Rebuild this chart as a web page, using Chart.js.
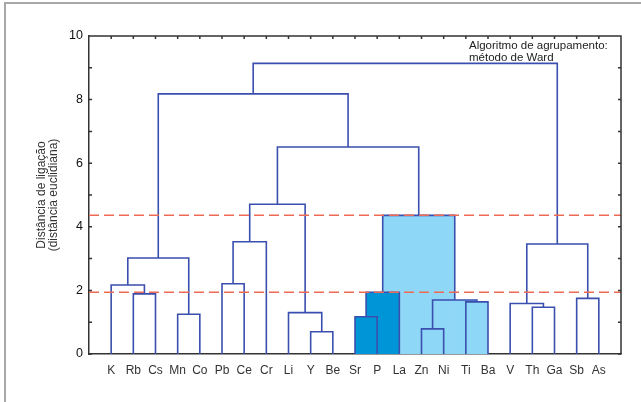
<!DOCTYPE html>
<html>
<head>
<meta charset="utf-8">
<script src="https://cdn.jsdelivr.net/npm/chart.js@4/dist/chart.umd.min.js"></script>
<style>
  html, body { margin: 0; padding: 0; background: #fff; }
  #wrap { width: 641px; height: 402px; position: relative; }
</style>
</head>
<body>
<div id="wrap"><canvas id="dendro" width="641" height="402"></canvas></div>
<script>
// Leaf order along the x axis (Ward clustering dendrogram)
const leaves = ['K', 'Rb', 'Cs', 'Mn', 'Co', 'Pb', 'Ce', 'Cr', 'Li', 'Y', 'Be', 'Sr', 'P',
  'La', 'Zn', 'Ni', 'Ti', 'Ba', 'V', 'Th', 'Ga', 'Sb', 'As'];

// Merges: [left, right, linkage distance]; a number refers to an earlier merge row
const merges = [
  ['Rb', 'Cs', 1.89],  // 0
  ['K', 0, 2.17],      // 1
  ['Mn', 'Co', 1.25],  // 2
  [1, 2, 3.02],        // 3
  ['Pb', 'Ce', 2.21],  // 4
  [4, 'Cr', 3.53],     // 5
  ['Y', 'Be', 0.70],   // 6
  ['Li', 6, 1.30],     // 7
  [5, 7, 4.71],        // 8
  ['Sr', 'P', 1.17],   // 9
  [9, 'La', 1.94],     // 10
  ['Zn', 'Ni', 0.79],  // 11
  ['Ti', 'Ba', 1.64],  // 12
  [11, 12, 1.70],      // 13
  [10, 13, 4.36],      // 14
  [8, 14, 6.51],       // 15
  [3, 15, 8.18],       // 16
  ['Th', 'Ga', 1.47],  // 17
  ['V', 17, 1.59],     // 18
  ['Sb', 'As', 1.75],  // 19
  [18, 19, 3.46],      // 20
  [16, 20, 9.14]       // 21
];

const cutLevels = [4.36, 1.94];
const yTicks = [0, 2, 4, 6, 8, 10];
const shadedOuter = 14;  // cluster La..Ba (light)
const shadedInner = 10;  // cluster Sr, P, La (dark)

const nodes = [];
function node(ref) {
  return typeof ref === 'string' ? { x: leaves.indexOf(ref) + 1, h: 0 } : nodes[ref];
}
merges.forEach(([l, r, h]) => {
  const a = node(l), b = node(r);
  nodes.push({ x: (a.x + b.x) / 2, h: h, a: a, b: b });
});
function subtree(i) {
  const out = [i];
  [merges[i][0], merges[i][1]].forEach(c => { if (typeof c === 'number') out.push(...subtree(c)); });
  return out;
}

const lineColor = '#3a4fae';
const datasets = [];

function boxFill(i, color, order) {
  const n = nodes[i];
  datasets.push({
    data: [{ x: n.a.x, y: 0 }, { x: n.a.x, y: n.h }, { x: n.b.x, y: n.h }, { x: n.b.x, y: 0 }],
    fill: 'origin', backgroundColor: color, borderColor: 'transparent', borderWidth: 0,
    pointRadius: 0, order: order
  });
}
subtree(shadedOuter).forEach(i => boxFill(i, '#8fd7f6', 3));
subtree(shadedInner).forEach(i => boxFill(i, '#0095d7', 2));

nodes.forEach(n => {
  datasets.push({
    data: [{ x: n.a.x, y: n.a.h }, { x: n.a.x, y: n.h }, { x: n.b.x, y: n.h }, { x: n.b.x, y: n.b.h }],
    borderColor: lineColor, borderWidth: 1.6, pointRadius: 0, fill: false, order: 1
  });
});

cutLevels.forEach(v => {
  datasets.push({
    data: [{ x: 0, y: v }, { x: leaves.length + 1, y: v }],
    borderColor: '#ef6a55', borderWidth: 1.5, borderDash: [10, 5], pointRadius: 0, fill: false, order: 0
  });
});

// box frame, inward ticks, annotation and outer border
const decor = {
  id: 'decor',
  afterDraw(chart) {
    const { ctx, chartArea: a, scales: { x, y } } = chart;
    ctx.save();
    ctx.strokeStyle = '#333';
    ctx.lineWidth = 1.5;
    ctx.beginPath();
    ctx.moveTo(a.left, a.top); ctx.lineTo(a.right, a.top); ctx.lineTo(a.right, a.bottom);
    for (let v = 0; v <= 10; v++) {
      const py = y.getPixelForValue(v);
      ctx.moveTo(a.left, py); ctx.lineTo(a.left + 3, py);
      ctx.moveTo(a.right, py); ctx.lineTo(a.right - 3, py);
    }
    leaves.forEach((_, i) => {
      const px = x.getPixelForValue(i + 1);
      ctx.moveTo(px, a.top); ctx.lineTo(px, a.top + 3);
    });
    ctx.stroke();

    ctx.fillStyle = '#222';
    ctx.font = '11.5px "Liberation Sans", Arial, sans-serif';
    ctx.textBaseline = 'alphabetic';
    ctx.fillText('Algoritmo de agrupamento:', a.right - 152, 48.5);
    ctx.fillText('método de Ward', a.right - 152, 60.5);

    ctx.strokeStyle = '#a8a8a8';
    ctx.lineWidth = 2;
    ctx.beginPath();
    ctx.moveTo(5, 402); ctx.lineTo(5, 3); ctx.lineTo(641, 3);
    ctx.stroke();
    ctx.restore();
  }
};

new Chart(document.getElementById('dendro'), {
  type: 'line',
  data: { datasets: datasets },
  options: {
    responsive: false,
    animation: false,
    layout: { padding: { left: 0, right: 20, top: 36, bottom: 0 } },
    plugins: { legend: { display: false }, tooltip: { enabled: false } },
    scales: {
      x: {
        type: 'linear', min: 0, max: leaves.length + 1,
        grid: { display: false, drawTicks: false },
        border: { display: true, color: '#333', width: 1.5 },
        afterBuildTicks: s => { s.ticks = leaves.map((_, i) => ({ value: i + 1 })); },
        afterFit: s => { s.height = 48; },
        ticks: {
          autoSkip: false, maxRotation: 0, padding: 9, color: '#333',
          font: { family: '"Liberation Sans", Arial, sans-serif', size: 12 },
          callback: v => leaves[v - 1]
        }
      },
      y: {
        min: 0, max: 10,
        grid: { display: false, drawTicks: false },
        border: { display: true, color: '#333', width: 1.5 },
        afterBuildTicks: s => { s.ticks = yTicks.map(v => ({ value: v })); },
        afterFit: s => { s.width = 89; },
        ticks: {
          padding: 6, color: '#111',
          font: { family: '"Liberation Sans", Arial, sans-serif', size: 12.5 }
        },
        title: {
          display: true,
          text: ['Distância de ligação', '(distância euclidiana)'],
          color: '#333',
          padding: { top: 36, bottom: 0 },
          font: { family: '"Liberation Sans", Arial, sans-serif', size: 12, lineHeight: 1.0 }
        }
      }
    }
  },
  plugins: [decor]
});
</script>
</body>
</html>
